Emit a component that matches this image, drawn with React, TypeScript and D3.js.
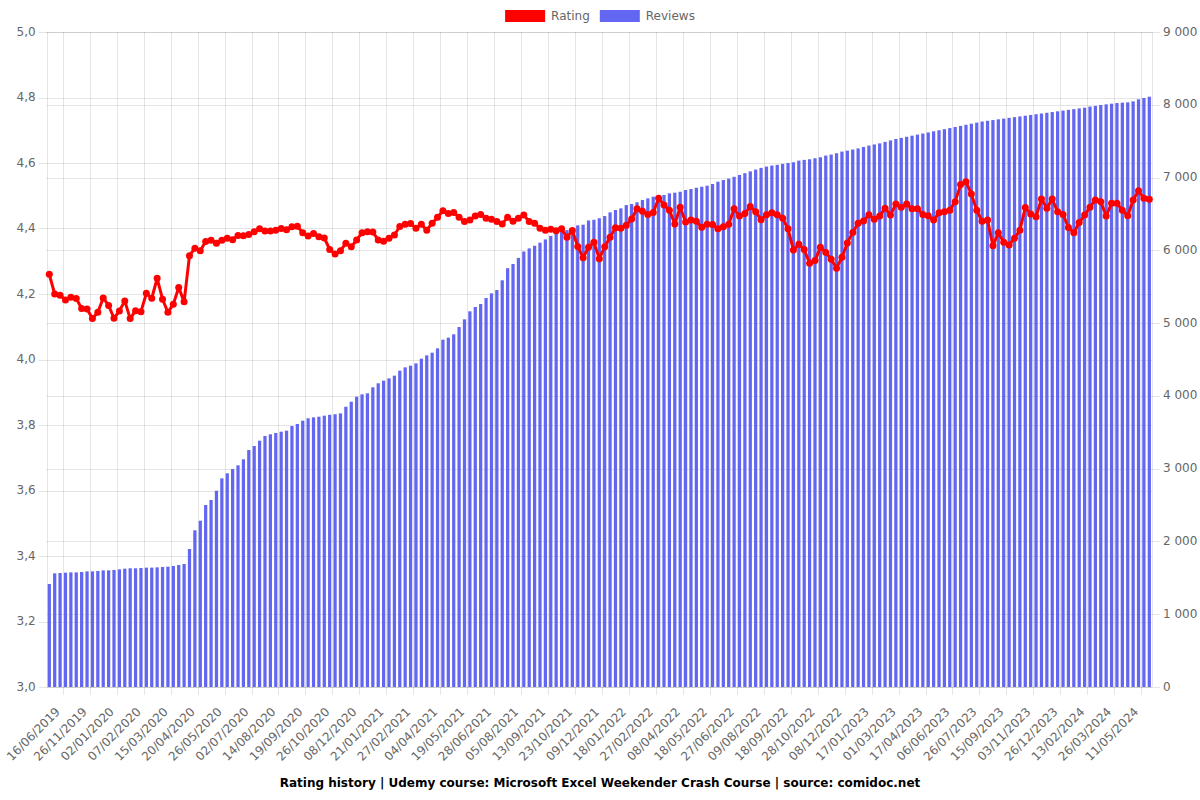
import React, { useEffect, useRef } from "react";
import * as d3 from "d3";

const ratings = [
  4.260, 4.200, 4.196, 4.182, 4.190, 4.186, 4.156, 4.154, 4.125, 4.144,
  4.188, 4.165, 4.126, 4.148, 4.179, 4.125, 4.149, 4.146, 4.202, 4.187,
  4.248, 4.184, 4.144, 4.169, 4.220, 4.176, 4.317, 4.340, 4.332, 4.360,
  4.364, 4.355, 4.364, 4.370, 4.366, 4.379, 4.378, 4.382, 4.390, 4.399,
  4.392, 4.392, 4.395, 4.400, 4.396, 4.405, 4.407, 4.387, 4.377, 4.385,
  4.375, 4.371, 4.336, 4.322, 4.332, 4.355, 4.344, 4.365, 4.387, 4.390,
  4.389, 4.365, 4.361, 4.370, 4.380, 4.406, 4.413, 4.415, 4.401, 4.413,
  4.395, 4.416, 4.434, 4.454, 4.446, 4.449, 4.434, 4.421, 4.426, 4.438,
  4.443, 4.431, 4.428, 4.421, 4.414, 4.434, 4.422, 4.431, 4.441, 4.421,
  4.416, 4.401, 4.395, 4.398, 4.393, 4.399, 4.373, 4.394, 4.345, 4.311,
  4.343, 4.358, 4.308, 4.344, 4.373, 4.402, 4.401, 4.410, 4.429, 4.460,
  4.453, 4.443, 4.449, 4.492, 4.472, 4.456, 4.414, 4.465, 4.420, 4.426,
  4.422, 4.404, 4.413, 4.412, 4.399, 4.405, 4.413, 4.460, 4.438, 4.446,
  4.467, 4.451, 4.427, 4.442, 4.448, 4.442, 4.431, 4.399, 4.334, 4.352,
  4.336, 4.294, 4.302, 4.343, 4.327, 4.306, 4.279, 4.312, 4.356, 4.388,
  4.416, 4.423, 4.442, 4.428, 4.438, 4.462, 4.441, 4.475, 4.465, 4.475,
  4.460, 4.460, 4.443, 4.439, 4.426, 4.448, 4.451, 4.456, 4.482, 4.534,
  4.543, 4.505, 4.456, 4.422, 4.426, 4.347, 4.387, 4.358, 4.350, 4.370,
  4.395, 4.464, 4.444, 4.436, 4.490, 4.462, 4.490, 4.451, 4.443, 4.403,
  4.387, 4.418, 4.441, 4.465, 4.487, 4.482, 4.438, 4.477, 4.477, 4.456,
  4.439, 4.487, 4.515, 4.492, 4.489,
];

const reviews = [
  1415, 1562, 1566, 1571, 1575, 1575, 1580, 1589, 1589, 1594,
  1603, 1603, 1608, 1617, 1626, 1631, 1631, 1635, 1640, 1640,
  1644, 1649, 1653, 1663, 1676, 1690, 1896, 2153, 2285, 2501,
  2569, 2697, 2867, 2936, 2995, 3046, 3128, 3256, 3311, 3384,
  3449, 3472, 3490, 3508, 3522, 3586, 3614, 3659, 3692, 3705,
  3714, 3728, 3740, 3748, 3760, 3851, 3920, 3989, 4021, 4035,
  4118, 4173, 4209, 4241, 4278, 4346, 4392, 4415, 4447, 4511,
  4557, 4593, 4653, 4772, 4800, 4846, 4946, 5052, 5162, 5221,
  5262, 5345, 5409, 5455, 5588, 5755, 5812, 5896, 5984, 6027,
  6063, 6105, 6150, 6198, 6232, 6264, 6278, 6300, 6343, 6352,
  6410, 6420, 6441, 6471, 6522, 6554, 6577, 6622, 6636, 6660,
  6691, 6714, 6737, 6750, 6760, 6783, 6792, 6805, 6829, 6842,
  6860, 6874, 6888, 6911, 6943, 6966, 6985, 7010, 7035, 7060,
  7085, 7110, 7133, 7151, 7165, 7174, 7188, 7201, 7210, 7233,
  7243, 7251, 7265, 7279, 7302, 7316, 7334, 7357, 7370, 7385,
  7400, 7420, 7440, 7455, 7470, 7490, 7510, 7530, 7545, 7560,
  7575, 7590, 7605, 7620, 7635, 7650, 7665, 7680, 7695, 7710,
  7725, 7740, 7755, 7770, 7780, 7790, 7800, 7810, 7820, 7830,
  7840, 7850, 7860, 7870, 7880, 7890, 7900, 7910, 7920, 7930,
  7940, 7950, 7960, 7975, 7985, 7997, 8006, 8015, 8024, 8029,
  8033, 8047, 8075, 8093, 8111,
];

const tickLabels = [
  "16/06/2019", "26/11/2019", "02/01/2020", "07/02/2020", "15/03/2020",
  "20/04/2020", "26/05/2020", "02/07/2020", "14/08/2020", "19/09/2020",
  "26/10/2020", "08/12/2020", "21/01/2021", "27/02/2021", "04/04/2021",
  "19/05/2021", "28/06/2021", "05/08/2021", "13/09/2021", "23/10/2021",
  "09/12/2021", "18/01/2022", "27/02/2022", "08/04/2022", "18/05/2022",
  "27/06/2022", "09/08/2022", "18/09/2022", "28/10/2022", "08/12/2022",
  "17/01/2023", "01/03/2023", "17/04/2023", "06/06/2023", "26/07/2023",
  "15/09/2023", "03/11/2023", "26/12/2023", "13/02/2024", "26/03/2024",
  "11/05/2024",
];
const tickEvery = 5;

const ratingTicks = [3.0, 3.2, 3.4, 3.6, 3.8, 4.0, 4.2, 4.4, 4.6, 4.8, 5.0];
const reviewTicks = [0, 1000, 2000, 3000, 4000, 5000, 6000, 7000, 8000, 9000];

const seriesNames = ["Rating", "Reviews"];
const ratingColor = "#ff0000";
const reviewColor = "#6366f1";
const title =
  "Rating history | Udemy course: Microsoft Excel Weekender Crash Course | source: comidoc.net";

export default function App() {
  const ref = useRef<SVGSVGElement>(null);

  useEffect(() => {
    const svg = d3.select(ref.current);
    svg.selectAll("*").remove();

    const left = 46.6, right = 1152, top = 32, bottom = 687;
    const gridColor = "rgba(0,0,0,0.1)";
    const font = "'DejaVu Sans', sans-serif";
    const n = ratings.length;

    const x = d3.scaleBand<number>().domain(d3.range(n)).range([left, right]);
    const cx = (i: number) => (x(i) as number) + x.bandwidth() / 2;
    const yL = d3.scaleLinear().domain([3, 5]).range([bottom, top]);
    const yR = d3.scaleLinear().domain([0, 9000]).range([bottom, top]);

    const loc = d3.formatLocale({ decimal: ",", thousands: "\u00a0", grouping: [3], currency: ["", ""] });
    const fmtL = loc.format(".1f");
    const fmtR = loc.format(",d");

    const g = svg.append("g");
    const crisp = (v: number) => Math.round(v) + 0.5;

    // horizontal grid - rating axis
    g.selectAll("line.gl").data(ratingTicks).enter().append("line")
      .attr("x1", left - 8).attr("x2", right)
      .attr("y1", (d) => crisp(yL(d))).attr("y2", (d) => crisp(yL(d)))
      .attr("stroke", gridColor).attr("stroke-width", 1);
    // horizontal grid - reviews axis
    g.selectAll("line.gr").data(reviewTicks).enter().append("line")
      .attr("x1", left).attr("x2", right + 8)
      .attr("y1", (d) => crisp(yR(d))).attr("y2", (d) => crisp(yR(d)))
      .attr("stroke", gridColor).attr("stroke-width", 1);

    // vertical grid lines (offset, halfway between shown ticks)
    const shown = tickLabels.map((_, k) => k * tickEvery);
    const gridXs: number[] = [];
    for (let k = 1; k < shown.length; k++) gridXs.push((cx(shown[k]) + cx(shown[k - 1])) / 2);
    const lastK = shown.length - 1;
    gridXs.push(cx(shown[lastK]) + (cx(shown[lastK]) - cx(shown[lastK - 1])) / 2);
    g.selectAll("line.gv").data(gridXs).enter().append("line")
      .attr("x1", (d) => crisp(d)).attr("x2", (d) => crisp(d))
      .attr("y1", top).attr("y2", bottom + 8)
      .attr("stroke", gridColor).attr("stroke-width", 1);

    // axis borders
    g.append("line").attr("x1", crisp(left)).attr("x2", crisp(left)).attr("y1", top).attr("y2", bottom)
      .attr("stroke", gridColor);
    g.append("line").attr("x1", crisp(right)).attr("x2", crisp(right)).attr("y1", top).attr("y2", bottom)
      .attr("stroke", gridColor);

    // bars
    const bw = x.bandwidth() * 0.6;
    g.selectAll("rect.bar").data(reviews).enter().append("rect")
      .attr("x", (_, i) => cx(i) - bw / 2)
      .attr("width", bw)
      .attr("y", (d) => yR(d))
      .attr("height", (d) => bottom - yR(d))
      .attr("fill", reviewColor);

    // line
    const line = d3.line<number>().x((_, i) => cx(i)).y((d) => yL(d));
    g.append("path").datum(ratings).attr("d", line)
      .attr("fill", "none").attr("stroke", ratingColor).attr("stroke-width", 3)
      .attr("stroke-linejoin", "round");
    g.selectAll("circle.pt").data(ratings).enter().append("circle")
      .attr("cx", (_, i) => cx(i)).attr("cy", (d) => yL(d)).attr("r", 3.5)
      .attr("fill", ratingColor);

    // left axis labels
    g.selectAll("text.yl").data(ratingTicks).enter().append("text")
      .attr("x", left - 11).attr("y", (d) => yL(d))
      .attr("text-anchor", "end").attr("dominant-baseline", "middle")
      .attr("font-family", font).attr("font-size", 12).attr("fill", "#666")
      .text((d) => fmtL(d));
    // right axis labels
    g.selectAll("text.yr").data(reviewTicks).enter().append("text")
      .attr("x", right + 11).attr("y", (d) => yR(d))
      .attr("text-anchor", "start").attr("dominant-baseline", "middle")
      .attr("font-family", font).attr("font-size", 12).attr("fill", "#666")
      .text((d) => fmtR(d));

    // x labels
    g.selectAll("text.xl").data(tickLabels).enter().append("text")
      .attr("transform", (_, k) => `translate(${cx(k * tickEvery) + 9},${bottom + 23}) rotate(-45)`)
      .attr("text-anchor", "end").attr("dominant-baseline", "middle")
      .attr("font-family", font).attr("font-size", 12).attr("fill", "#666")
      .text((d) => d);

    // legend
    const lg = svg.append("g");
    const colors = [ratingColor, reviewColor];
    const widths: number[] = [];
    const tmp = lg.append("text").attr("font-family", font).attr("font-size", 12);
    seriesNames.forEach((s) => { tmp.text(s); widths.push((tmp.node() as SVGTextElement).getComputedTextLength()); });
    tmp.remove();
    const itemW = widths.map((w) => 40 + 6 + w);
    const total = d3.sum(itemW) + 10 * (itemW.length - 1);
    let lx = 600 - total / 2;
    seriesNames.forEach((s, i) => {
      lg.append("rect").attr("x", lx).attr("y", 10).attr("width", 40).attr("height", 12)
        .attr("fill", colors[i]);
      lg.append("text").attr("x", lx + 46).attr("y", 16.5).attr("dominant-baseline", "middle")
        .attr("font-family", font).attr("font-size", 12).attr("fill", "#666").text(s);
      lx += itemW[i] + 10;
    });

    // title
    svg.append("text").attr("x", 600).attr("y", 783).attr("text-anchor", "middle")
      .attr("dominant-baseline", "middle")
      .attr("font-family", font).attr("font-size", 12).attr("font-weight", "bold").attr("fill", "#000")
      .text(title);
  }, []);

  return (
    <svg
      ref={ref}
      width={1200}
      height={800}
      style={{ position: "absolute", left: 0, top: 0, display: "block", background: "#fff" }}
    />
  );
}
